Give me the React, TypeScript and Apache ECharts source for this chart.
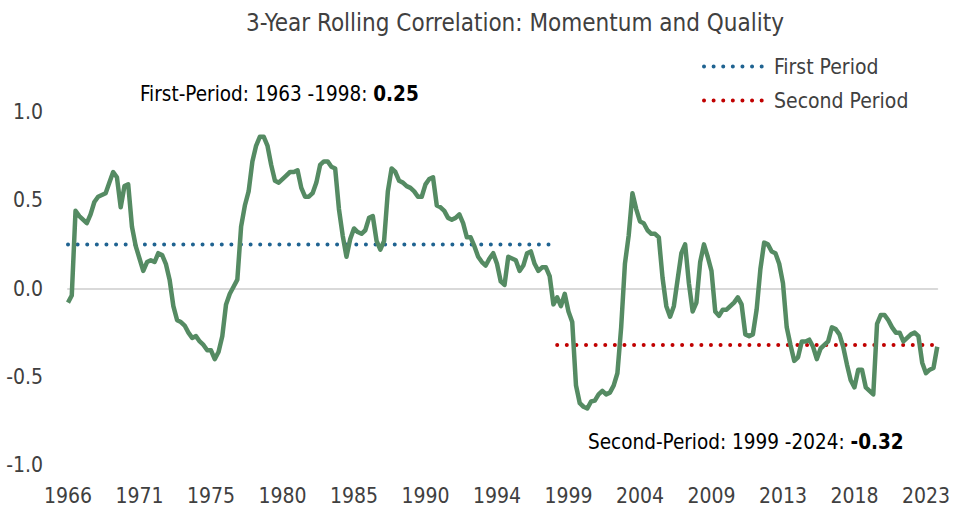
import React, { useEffect, useRef } from "react";
import * as echarts from "echarts";

// 3-year rolling correlation, quarterly readings starting 1966 Q2
const START_YEAR = 1966;
const START_QUARTER = 2;
const correlation: number[] = [
  -0.08, -0.04, 0.44, 0.41, 0.39, 0.37, 0.42, 0.49, 0.52, 0.53,
  0.54, 0.6, 0.66, 0.63, 0.46, 0.58, 0.59, 0.35, 0.24, 0.17,
  0.1, 0.15, 0.16, 0.15, 0.2, 0.19, 0.14, 0.05, -0.1, -0.18,
  -0.19, -0.21, -0.25, -0.28, -0.27, -0.3, -0.32, -0.35, -0.35, -0.4,
  -0.36, -0.27, -0.09, -0.03, 0.01, 0.05, 0.35, 0.47, 0.55, 0.72,
  0.81, 0.86, 0.86, 0.81, 0.7, 0.61, 0.6, 0.62, 0.64, 0.66,
  0.66, 0.67, 0.57, 0.52, 0.52, 0.54, 0.6, 0.7, 0.72, 0.72,
  0.69, 0.68, 0.45, 0.3, 0.18, 0.28, 0.34, 0.32, 0.31, 0.33,
  0.4, 0.41, 0.27, 0.22, 0.27, 0.55, 0.68, 0.66, 0.61, 0.6,
  0.58, 0.57, 0.55, 0.52, 0.52, 0.59, 0.62, 0.63, 0.47, 0.46,
  0.44, 0.4, 0.39, 0.4, 0.42, 0.37, 0.29, 0.29, 0.24, 0.18,
  0.15, 0.13, 0.17, 0.2, 0.14, 0.04, 0.02, 0.18, 0.17, 0.16,
  0.1, 0.13, 0.2, 0.21, 0.14, 0.1, 0.12, 0.12, 0.07, -0.09,
  -0.05, -0.1, -0.03, -0.13, -0.19, -0.55, -0.65, -0.67, -0.68, -0.64,
  -0.635, -0.6, -0.58, -0.6, -0.59, -0.55, -0.48, -0.22, 0.14, 0.3,
  0.54, 0.45, 0.38, 0.37, 0.33, 0.31, 0.31, 0.29, 0.06, -0.1,
  -0.16, -0.1, 0.05, 0.2, 0.25, 0.03, -0.13, -0.08, 0.15, 0.25,
  0.18, 0.1, -0.13, -0.155, -0.12, -0.12, -0.1, -0.08, -0.05, -0.09,
  -0.26, -0.27, -0.26, -0.12, 0.11, 0.26, 0.25, 0.21, 0.2, 0.14,
  0.03, -0.22, -0.32, -0.41, -0.39, -0.3, -0.3, -0.29, -0.33, -0.4,
  -0.34, -0.32, -0.3, -0.22, -0.23, -0.26, -0.33, -0.43, -0.52, -0.56,
  -0.46, -0.46, -0.56, -0.58, -0.6, -0.2, -0.15, -0.15, -0.18, -0.22,
  -0.25, -0.25, -0.3, -0.28, -0.26, -0.25, -0.27, -0.42, -0.48, -0.46,
  -0.45, -0.33,
];

const quarters: string[] = correlation.map((_, i) => {
  const q = START_QUARTER - 1 + i;
  return `${START_YEAR + Math.floor(q / 4)} Q${(q % 4) + 1}`;
});

const FIRST_PERIOD_MEAN = 0.25;
const FIRST_PERIOD_SPAN = ["1966 Q2", "1998 Q2"];
const SECOND_PERIOD_MEAN = -0.32;
const SECOND_PERIOD_SPAN = ["1998 Q4", "2024 Q1"];

const yTicks = { min: -1, max: 1, interval: 0.5 };

const TITLE = "3-Year Rolling Correlation: Momentum and Quality";
const FIRST_NOTE = ["First-Period: 1963 -1998: ", "0.25"];
const SECOND_NOTE = ["Second-Period: 1999 -2024: ", "-0.32"];

const FONT = '"Liberation Sans Narrow", "DejaVu Sans Condensed", "Liberation Sans", sans-serif';
const TEXT = "#404040";
const GREEN = "#558B63";
const BLUE = "#1F6391";
const RED = "#C00000";
const DOTS = [0.01, 9.6];

export default function App() {
  const ref = useRef<HTMLDivElement>(null);
  useEffect(() => {
    if (!ref.current) return;
    const chart = echarts.init(ref.current, undefined, { renderer: "svg" });
    const noteRich = {
      n: { fontFamily: FONT, fontSize: 20.5, color: TEXT },
      b: { fontFamily: FONT, fontSize: 20.5, fontWeight: "bold", color: TEXT },
    };
    chart.setOption({
      animation: false,
      textStyle: { fontFamily: FONT },
      title: {
        text: TITLE,
        left: 510,
        top: 6,
        textAlign: "center",
        textStyle: { fontFamily: FONT, fontSize: 24, fontWeight: "normal", color: TEXT },
      },
      legend: {
        data: ["First Period", "Second Period"],
        orient: "vertical",
        left: 697,
        top: 51,
        itemWidth: 63,
        itemHeight: 14,
        itemGap: 13,
        itemStyle: { opacity: 0, borderWidth: 0 },
        lineStyle: { width: 4, type: DOTS, cap: "round" },
        textStyle: { fontFamily: FONT, fontSize: 21, color: TEXT, padding: [0, 0, 0, 2] },
      },
      grid: { left: 68, right: 12, top: 112, bottom: 45 },
      xAxis: [
        {
          type: "category",
          data: quarters,
          boundaryGap: false,
          axisLine: { show: false, onZero: false },
          axisTick: { show: false },
          splitLine: { show: false },
          axisLabel: {
            interval: 18,
            margin: 20,
            fontFamily: FONT,
            fontSize: 21,
            color: TEXT,
            formatter: (v: string) => v.slice(0, 4),
          },
        },
        {
          type: "category",
          data: quarters,
          boundaryGap: false,
          position: "bottom",
          axisLine: { show: true, onZero: true, lineStyle: { color: "#D9D9D9", width: 2 } },
          axisTick: { show: false },
          axisLabel: { show: false },
          splitLine: { show: false },
        },
      ],
      yAxis: {
        type: "value",
        min: yTicks.min,
        max: yTicks.max,
        interval: yTicks.interval,
        axisLine: { show: false },
        axisTick: { show: false },
        splitLine: { show: false },
        axisLabel: {
          margin: 25,
          fontFamily: FONT,
          fontSize: 21,
          color: TEXT,
          formatter: (v: number) => v.toFixed(1),
        },
      },
      series: [
        {
          name: "First Period",
          type: "line",
          data: FIRST_PERIOD_SPAN.map((c) => [c, FIRST_PERIOD_MEAN]),
          symbol: "none",
          z: 2,
          lineStyle: { color: BLUE, width: 4, type: DOTS, cap: "round" },
          itemStyle: { color: BLUE },
        },
        {
          name: "Second Period",
          type: "line",
          data: SECOND_PERIOD_SPAN.map((c) => [c, SECOND_PERIOD_MEAN]),
          symbol: "none",
          z: 2,
          lineStyle: { color: RED, width: 4, type: DOTS, cap: "round" },
          itemStyle: { color: RED },
        },
        {
          name: "Correlation",
          type: "line",
          data: correlation,
          symbol: "none",
          z: 3,
          lineStyle: { color: GREEN, width: 4.5, join: "round" },
          itemStyle: { color: GREEN },
        },
      ],
      graphic: [
        {
          type: "text",
          left: 140,
          top: 83,
          style: { text: `{n|${FIRST_NOTE[0]}}{b|${FIRST_NOTE[1]}}`, rich: noteRich },
        },
        {
          type: "text",
          left: 588,
          top: 431,
          style: { text: `{n|${SECOND_NOTE[0]}}{b|${SECOND_NOTE[1]}}`, rich: noteRich },
        },
      ],
    });
    return () => chart.dispose();
  }, []);
  return (
    <div
      ref={ref}
      style={{ position: "fixed", left: 0, top: 0, width: 953, height: 510, background: "#fff" }}
    />
  );
}
